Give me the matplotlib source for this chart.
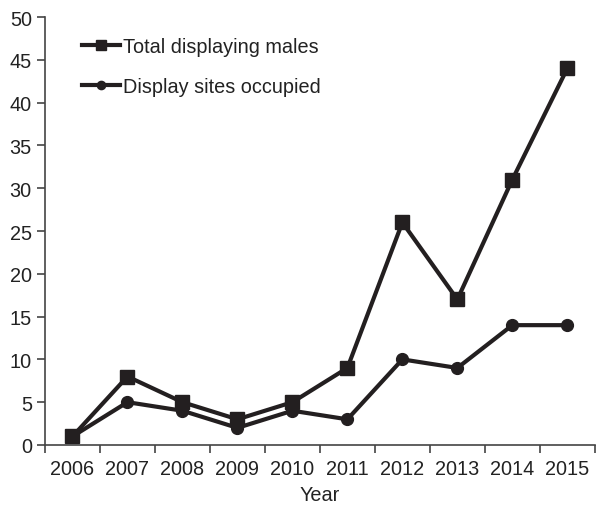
import matplotlib
matplotlib.use("Agg")
import matplotlib.pyplot as plt
import numpy as np

years = ["2006", "2007", "2008", "2009", "2010", "2011", "2012", "2013", "2014", "2015"]
total_males = [1, 8, 5, 3, 5, 9, 26, 17, 31, 44]
sites_occupied = [1, 5, 4, 2, 4, 3, 10, 9, 14, 14]

plt.rcParams['font.family'] = ['Liberation Sans', 'DejaVu Sans']
col = "#231f20"
fs = 14.3

fig = plt.figure(figsize=(5.96, 5.06), dpi=100)
ax = fig.add_axes([0.0755, 0.1186, 0.9225, 0.8458])

x = np.arange(len(years))
ax.plot(x, total_males, color=col, lw=3.0, marker='s', ms=10, label="Total displaying males")
ax.plot(x, sites_occupied, color=col, lw=3.0, marker='o', ms=8.5, label="Display sites occupied")

ax.set_xlim(-0.5, len(years) - 0.5)
ax.set_ylim(0, 50)
ax.set_yticks(range(0, 51, 5))
ax.set_xticks(np.arange(-0.5, len(years), 1.0))
ax.set_xticklabels([])
ax.set_xticks(x, minor=True)
ax.set_xticklabels(years, minor=True)
ax.tick_params(axis='x', which='minor', length=0, pad=10)
ax.tick_params(axis='both', which='major', length=6, width=1.2, color="#444444", direction='out', labelsize=fs, labelcolor="#222222")
ax.tick_params(axis='x', which='minor', labelsize=fs, labelcolor="#222222")
for s in ['top', 'right']:
    ax.spines[s].set_visible(False)
for s in ['left', 'bottom']:
    ax.spines[s].set_linewidth(1.2)
    ax.spines[s].set_color("#444444")
ax.set_xlabel("Year", fontsize=fs, color="#222222", labelpad=5)

leg = ax.legend(loc='upper left', bbox_to_anchor=(0.035, 0.995), frameon=False, fontsize=fs,
                handlelength=1.9, handletextpad=0.15, labelspacing=1.05, markerscale=0.7)
for t in leg.get_texts():
    t.set_color("#222222")

fig.savefig("out.png", dpi=100)
